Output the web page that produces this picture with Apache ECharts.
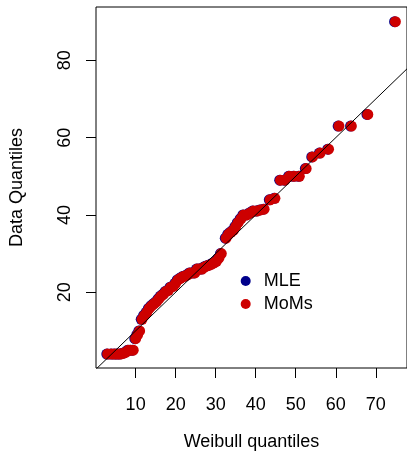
<!DOCTYPE html>
<html>
<head>
<meta charset="utf-8">
<script src="https://cdn.jsdelivr.net/npm/echarts@6/dist/echarts.min.js"></script>
<style>html,body{margin:0;padding:0;background:#fff;}#c{width:407px;height:460px;}</style>
</head>
<body>
<div id="c"></div>
<script>
// Theoretical Weibull quantiles (x) and sorted data quantiles (y)
var momsX = [3.0,4.0,4.8,5.5,6.2,6.9,7.6,8.2,8.8,9.4,10.0,10.5,11.0,11.6,12.2,12.8,13.4,14.0,14.6,15.2,15.8,16.4,17.0,17.6,18.2,18.8,19.4,20.0,20.6,21.2,21.8,22.4,23.0,23.6,24.2,24.8,25.4,26.0,26.6,27.2,27.8,28.4,29.0,29.6,30.2,30.8,31.4,32.6,33.2,33.8,34.4,35.0,35.6,36.3,37.0,37.8,38.6,39.4,40.3,41.2,42.1,43.6,44.8,46.2,47.3,48.4,49.6,50.9,52.6,54.2,56.1,58.2,60.8,63.9,68.0,74.9];
var momsY = [4,4,4,4,4,4.2,4.5,5,5,5,8,9,10,13,14,14.8,15.8,16.5,17,17.5,18.3,19,19.5,20.2,20.5,21.3,21.5,22.3,23.2,23.6,24,24.2,24.5,25,25,25,26,26,26,26.5,26.8,27,27.3,27.6,28,28.8,30,34,35,35.5,36,37,38,39,40,40,40.5,41,41,41.3,41.5,43.9,44.3,49,49,50,50,50,52,55,56,57,63,63,66,90];
var mleX = [2.8,3.8,4.6,5.3,6.0,6.7,7.4,8.0,8.6,9.2,9.8,10.3,10.8,11.4,12.0,12.6,13.2,13.8,14.4,15.0,15.6,16.2,16.8,17.4,18.0,18.6,19.2,19.8,20.4,21.0,21.6,22.2,22.8,23.4,24.0,24.6,25.2,25.8,26.4,27.0,27.6,28.2,28.8,29.4,30.0,30.6,31.2,32.4,33.0,33.6,34.2,34.8,35.4,36.1,36.8,37.6,38.4,39.2,40.1,41.0,41.9,43.4,44.6,46.0,47.1,48.2,49.4,50.7,52.4,54.0,55.9,58.0,60.6,63.7,67.8,74.7];
var mleY = [4,4,4,4,4,4.2,4.5,5,5,5,8,9,10,13,14,14.8,15.8,16.5,17,17.5,18.3,19,19.5,20.2,20.5,21.3,21.5,22.3,23.2,23.6,24,24.2,24.5,25,25,25,26,26,26,26.5,26.8,27,27.3,27.6,28,28.8,30,34,35,35.5,36,37,38,39,40,40,40.5,41,41,41.3,41.5,43.9,44.3,49,49,50,50,50,52,55,56,57,63,63,66,90];
var xTicks = [10,20,30,40,50,60,70];
var yTicks = [20,40,60,80];
var xRange = [0.1, 77.8];
var yRange = [0.4, 93.8];
var abline = {intercept: 0, slope: 1};
var seriesNames = ['MLE','MoMs'];
var colors = ['#00008B','#CD0000'];

function zip(a,b){var r=[];for(var i=0;i<a.length;i++)r.push([a[i],b[i]]);return r;}
var font = 'Liberation Sans, Arial, Helvetica, sans-serif';
var chart = echarts.init(document.getElementById('c'));
chart.setOption({
  animation:false,
  backgroundColor:'#fff',
  grid:{left:93,top:7,right:-2,bottom:92,show:true,borderColor:'#000',borderWidth:1,backgroundColor:'transparent'},
  xAxis:{type:'value',min:xRange[0],max:xRange[1],
    name:'Weibull quantiles',nameLocation:'middle',nameGap:65,
    nameTextStyle:{fontFamily:font,fontSize:18,color:'#000'},
    axisLine:{show:false},splitLine:{show:false},
    axisTick:{show:true,length:10,lineStyle:{color:'#000'},customValues:xTicks},
    axisLabel:{fontFamily:font,fontSize:18,color:'#000',margin:28,customValues:xTicks}},
  yAxis:{type:'value',min:yRange[0],max:yRange[1],
    name:'Data Quantiles',nameLocation:'middle',nameGap:70,nameRotate:90,
    nameTextStyle:{fontFamily:font,fontSize:18,color:'#000'},
    axisLine:{show:false},splitLine:{show:false},
    axisTick:{show:true,length:10,lineStyle:{color:'#000'},customValues:yTicks},
    axisLabel:{fontFamily:font,fontSize:18,color:'#000',margin:22,rotate:90,customValues:yTicks}},
  legend:{orient:'vertical',left:235.7,top:267,itemWidth:10,itemHeight:10,itemGap:5,icon:'circle',
    data:seriesNames,
    textStyle:{fontFamily:font,fontSize:18,color:'#000',lineHeight:18,padding:[0,0,0,8]}},
  series:[
    {name:seriesNames[0],type:'scatter',symbol:'circle',symbolSize:11,itemStyle:{color:colors[0],opacity:1},data:zip(mleX,mleY),z:2},
    {name:seriesNames[1],type:'scatter',symbol:'circle',symbolSize:11,itemStyle:{color:colors[1],opacity:1},data:zip(momsX,momsY),z:3},
    {name:'abline',type:'line',symbol:'none',silent:true,clip:true,lineStyle:{color:'#000',width:1},z:4,
     data:[[xRange[0],abline.intercept+abline.slope*xRange[0]],[xRange[1],abline.intercept+abline.slope*xRange[1]]]}
  ]
});
</script>
</body>
</html>
